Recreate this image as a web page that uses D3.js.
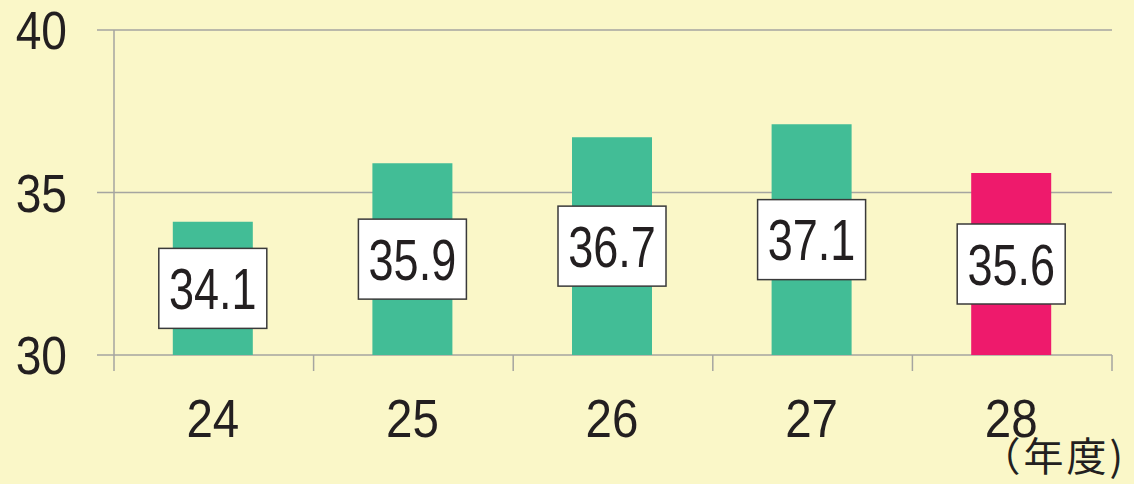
<!DOCTYPE html>
<html><head><meta charset="utf-8">
<script src="https://cdn.jsdelivr.net/npm/d3@7"></script>
<style>
html,body{margin:0;padding:0;background:#FAF7C8;}
svg{display:block;}
</style></head>
<body>
<svg id="c" width="1134" height="484"></svg>
<script>
const categories = ["24","25","26","27","28"];
const values = [34.1, 35.9, 36.7, 37.1, 35.6];
const valueLabels = ["34.1","35.9","36.7","37.1","35.6"];
const barColors = ["#42BD96","#42BD96","#42BD96","#42BD96","#EE1A6C"];
const yTicks = [30, 35, 40];
const unitLabel = "（年度)";

const svg = d3.select("#c");
const W = 1134, H = 484;
svg.append("rect").attr("width", W).attr("height", H).attr("fill", "#FAF7C8");

const x0 = 114, x1 = 1112, yTop = 30, yBot = 355;
const x = d3.scaleBand().domain(categories).range([x0, x1]).paddingInner(0).paddingOuter(0);
const y = d3.scaleLinear().domain([30, 40]).range([yBot, yTop]);
const grid = "#A5A5A0";
const textColor = "#231F20";
const font = "'Liberation Sans',Arial,sans-serif";

// gridlines
svg.append("g").selectAll("line").data(yTicks).join("line")
  .attr("x1", 97).attr("x2", x1)
  .attr("y1", d => y(d)).attr("y2", d => y(d))
  .attr("stroke", grid).attr("stroke-width", 1.5);

// y axis line
svg.append("line").attr("x1", x0).attr("x2", x0).attr("y1", yTop).attr("y2", yBot + 16)
  .attr("stroke", grid).attr("stroke-width", 1.5);

// x ticks at band boundaries
const bounds = categories.map(c => x(c)).concat([x1]);
svg.append("g").selectAll("line").data(bounds.slice(1)).join("line")
  .attr("x1", d => d).attr("x2", d => d).attr("y1", yBot).attr("y2", yBot + 16)
  .attr("stroke", grid).attr("stroke-width", 1.5);

// y labels (condensed)
svg.append("g").selectAll("g").data(yTicks).join("g")
  .attr("transform", d => `translate(67,${y(d)}) scale(0.87,1)`)
  .append("text").attr("dy", "0.36em")
  .attr("text-anchor", "end").attr("font-family", font).attr("font-size", 53)
  .attr("fill", textColor).text(d => d);

// bars
const bw = 80;
svg.append("g").selectAll("rect").data(values).join("rect")
  .attr("x", (d, i) => x(categories[i]) + x.bandwidth() / 2 - bw / 2 - 1)
  .attr("width", bw)
  .attr("y", d => y(d)).attr("height", d => yBot - y(d))
  .attr("fill", (d, i) => barColors[i]);

// label boxes
const bx = 108, bh = 80;
const lg = svg.append("g").selectAll("g").data(values).join("g")
  .attr("transform", (d, i) => `translate(${x(categories[i]) + x.bandwidth() / 2 - 1},${(y(d) + yBot) / 2})`);
lg.append("rect").attr("x", -bx / 2).attr("y", -bh / 2).attr("width", bx).attr("height", bh)
  .attr("fill", "#fff").attr("stroke", "#3a3a3a").attr("stroke-width", 1.5);
lg.append("g").attr("transform", "scale(0.79,1)")
  .append("text").attr("text-anchor", "middle").attr("dy", "0.36em")
  .attr("font-family", font).attr("font-size", 57).attr("fill", textColor)
  .text((d, i) => valueLabels[i]);

// x labels
svg.append("g").selectAll("g").data(categories).join("g")
  .attr("transform", d => `translate(${x(d) + x.bandwidth() / 2 - 1},437) scale(0.88,1)`)
  .append("text")
  .attr("text-anchor", "middle").attr("font-family", font).attr("font-size", 54)
  .attr("fill", textColor).text(d => d);

// unit label
svg.append("text").attr("x", 1126).attr("y", 471).attr("text-anchor", "end")
  .attr("letter-spacing", 3)
  .attr("font-family", "'Noto Sans CJK JP','Noto Sans CJK SC',sans-serif").attr("font-size", 40)
  .attr("fill", textColor).text(unitLabel);
</script>
</body></html>
